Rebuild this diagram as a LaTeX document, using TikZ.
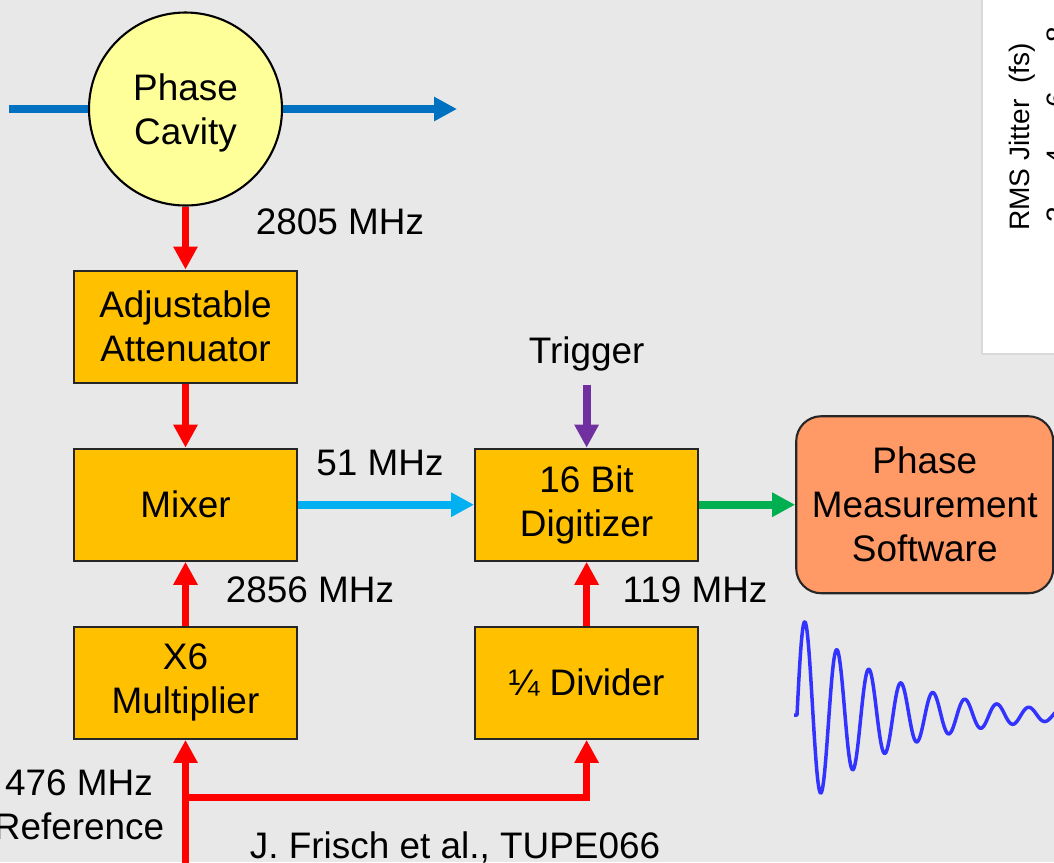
\documentclass[tikz,border=0pt]{standalone}
\usepackage{fontspec}
\setmainfont{Liberation Sans}
\usetikzlibrary{arrows.meta,positioning}
\definecolor{bggray}{HTML}{E8E8E8}
\definecolor{boxgold}{HTML}{FFC000}
\definecolor{cavyellow}{HTML}{FFFF99}
\definecolor{swsalmon}{HTML}{FF9966}
\definecolor{sigred}{HTML}{FF0000}
\definecolor{beamblue}{HTML}{0070C0}
\definecolor{ifcyan}{HTML}{00B0F0}
\definecolor{outgreen}{HTML}{00B050}
\definecolor{trigpurple}{HTML}{7030A0}
\definecolor{waveblue}{HTML}{3333FF}
\tikzset{
  blk/.style={draw=black!85,fill=boxgold,rectangle,minimum width=2.23cm,minimum height=1.12cm,line width=0.6pt,align=center,inner sep=0pt},
  cavblk/.style={circle,draw=black,fill=cavyellow,minimum size=1.93cm,line width=0.6pt,inner sep=0pt},
  swblk/.style={blk,fill=swsalmon,rounded corners=0.25cm,minimum width=2.57cm,minimum height=1.77cm},
  lbl/.style={align=center,inner sep=0pt},
  tick/.style={rotate=90,inner sep=0pt,font=\fontsize{8}{9.6}\selectfont},
  tip/.style={-{Triangle[length=0.23cm,width=0.23cm]}},
  rarr/.style={tip,line width=0.07cm,draw=sigred},
  beam/.style={line width=0.08cm,draw=beamblue},
  carr/.style={tip,line width=0.08cm,draw=ifcyan},
  garr/.style={tip,line width=0.08cm,draw=outgreen},
  parr/.style={tip,line width=0.08cm,draw=trigpurple}
}
\begin{document}
\begin{tikzpicture}[node distance=0.64cm and 1.76cm,font=\fontsize{10.5}{12.5}\selectfont]
  \useasboundingbox (0,0) rectangle (10.54,-8.62);
  \clip (0,0) rectangle (10.54,-8.62);
  \fill[bggray] (0,0) rectangle (10.54,-8.62);

  % jitter plot cut off at the right
  \filldraw[fill=white,draw=black!15] (9.82,0.05) rectangle (10.70,-3.54);
  \node[tick] (ylab) at (10.22,-1.37) {RMS Jitter\ \ (fs)};
  \foreach \v/\yy in {8/0.35,6/1.00,4/1.57,2/2.15}
    \node[tick] (t\v) at (10.57,-\yy) {\v};

  % beam line through the cavity
  \coordinate (beamin) at (0.09,-1.09);
  \coordinate (beamout) at (4.57,-1.09);
  \node[cavblk] (cav) at (1.855,-1.09) {};
  \node[lbl] (cavtxt) at ([yshift=-0.04cm]cav.center) {Phase\\Cavity};
  \draw[beam] (beamin) -- (cav);
  \draw[beam,tip] (cav) -- (beamout);

  \node[blk, below=0.63cm of cav] (att) {Adjustable\\Attenuator};
  \node[blk, below=of att] (mix) {Mixer};
  \node[blk, below=of mix] (mult) {X6\\Multiplier};
  \node[blk, right=of mix] (dig) {16 Bit\\Digitizer};
  \node[blk, right=of mult] (div) {¼ Divider};
  \node[swblk, right=0.96cm of dig] (sw) {Phase\\Measurement\\Software};
  \node[lbl, above=0.63cm of dig, inner sep=0.13cm] (trig) {Trigger};

  \node[lbl] (f2805) at (3.40,-2.22) {2805 MHz};
  \node[lbl] (f51) at (3.80,-4.63) {51 MHz};
  \node[lbl] (f2856) at (3.10,-5.90) {2856 MHz};
  \node[lbl] (f119) at (6.95,-5.90) {119 MHz};
  \node[lbl] (ref) at (0.79,-8.05) {476 MHz\\Reference};
  \node[lbl] (cite) at (4.55,-8.47) {J. Frisch et al., TUPE066};

  \draw[rarr] (cav) -- (att);
  \draw[rarr] (att) -- (mix);
  \draw[rarr] (mult) -- (mix);
  \draw[rarr] (div) -- (dig);
  \draw[carr] (mix) -- (dig);
  \draw[garr] (dig) -- (sw);
  \draw[parr] (trig) -- (dig);

  % reference distribution
  \coordinate (refin) at (1.855,-8.75);
  \coordinate (split) at (1.855,-7.97);
  \draw[rarr] (refin) -- (mult);
  \draw[rarr] (split) -| (div);

  % ringing waveform
  \draw[waveblue,line width=0.035cm,line join=round] (7.94,-7.15) -- (7.97,-7.15)
    -- plot[domain=0:2.62,samples=500,smooth] ({7.97+\x},{-7.15+1.017*exp(-1.11*\x)*sin(360*\x/0.32)});
\end{tikzpicture}
\end{document}
